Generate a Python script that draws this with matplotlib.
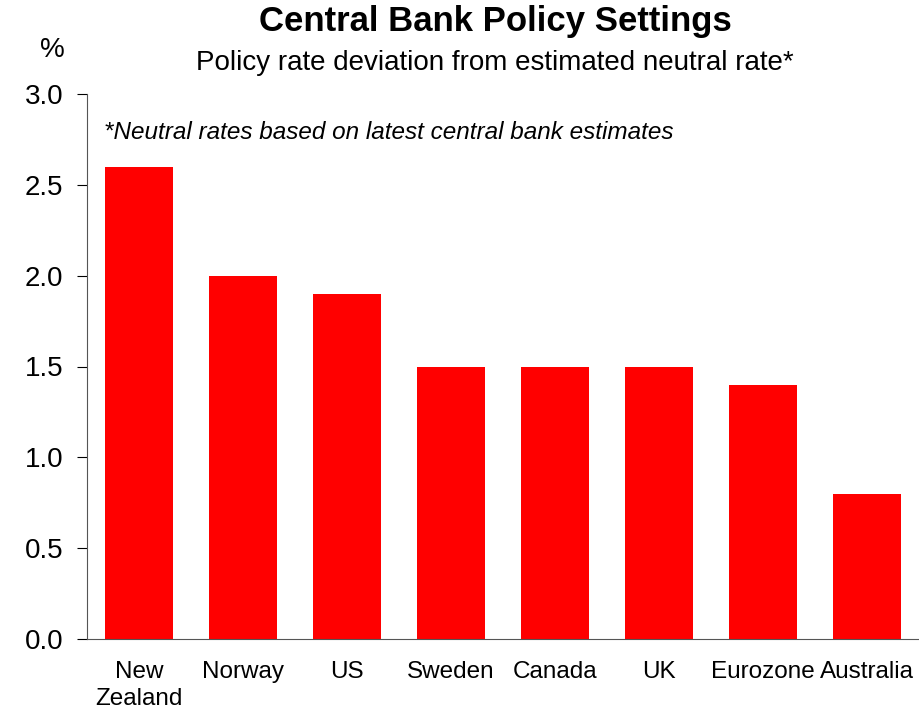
"""Central bank policy settings: policy rate deviation from neutral."""

import matplotlib.pyplot as plt

countries = ["New\nZealand", "Norway", "US", "Sweden", "Canada", "UK", "Eurozone", "Australia"]
deviation_pct = [2.6, 2.0, 1.9, 1.5, 1.5, 1.5, 1.4, 0.8]
y_ticks = [0.0, 0.5, 1.0, 1.5, 2.0, 2.5, 3.0]

plt.rcParams["font.family"] = ["Liberation Sans", "DejaVu Sans"]

fig = plt.figure(figsize=(9.19, 7.10), dpi=100)
ax = fig.add_axes([87 / 919, 1 - 639 / 710, 1 - 87 / 919, (639 - 94) / 710])

x = range(len(countries))
ax.bar(x, deviation_pct, width=0.66, color="#ff0000", zorder=2)

ax.set_xlim(-0.5, len(countries) - 0.5)
ax.set_ylim(0, 3.0)
ax.set_yticks(y_ticks)
ax.set_yticklabels([f"{v:.1f}" for v in y_ticks], fontsize=20)
ax.set_xticks(list(x))
ax.set_xticklabels(countries, fontsize=17.5, linespacing=1.3)
ax.tick_params(axis="x", length=0, pad=16)
ax.tick_params(axis="y", direction="out", length=7, width=0.8, pad=10)

for side in ("top", "right"):
    ax.spines[side].set_visible(False)
ax.spines["left"].set_color("#555555")
ax.spines["bottom"].set_color("#555555")

ax.text(0.02, 0.93, "*Neutral rates based on latest central bank estimates",
        transform=ax.transAxes, fontsize=17.5, style="italic", va="center")

fig.text(495 / 919, 1 - 22 / 710, "Central Bank Policy Settings",
         fontsize=25, fontweight="bold", ha="center", va="center")
fig.text(495 / 919, 1 - 63 / 710, "Policy rate deviation from estimated neutral rate*",
         fontsize=20, ha="center", va="center")
fig.text(52 / 919, 1 - 50 / 710, "%", fontsize=20, ha="center", va="center")

plt.savefig("out.png", dpi=100)
plt.close()
